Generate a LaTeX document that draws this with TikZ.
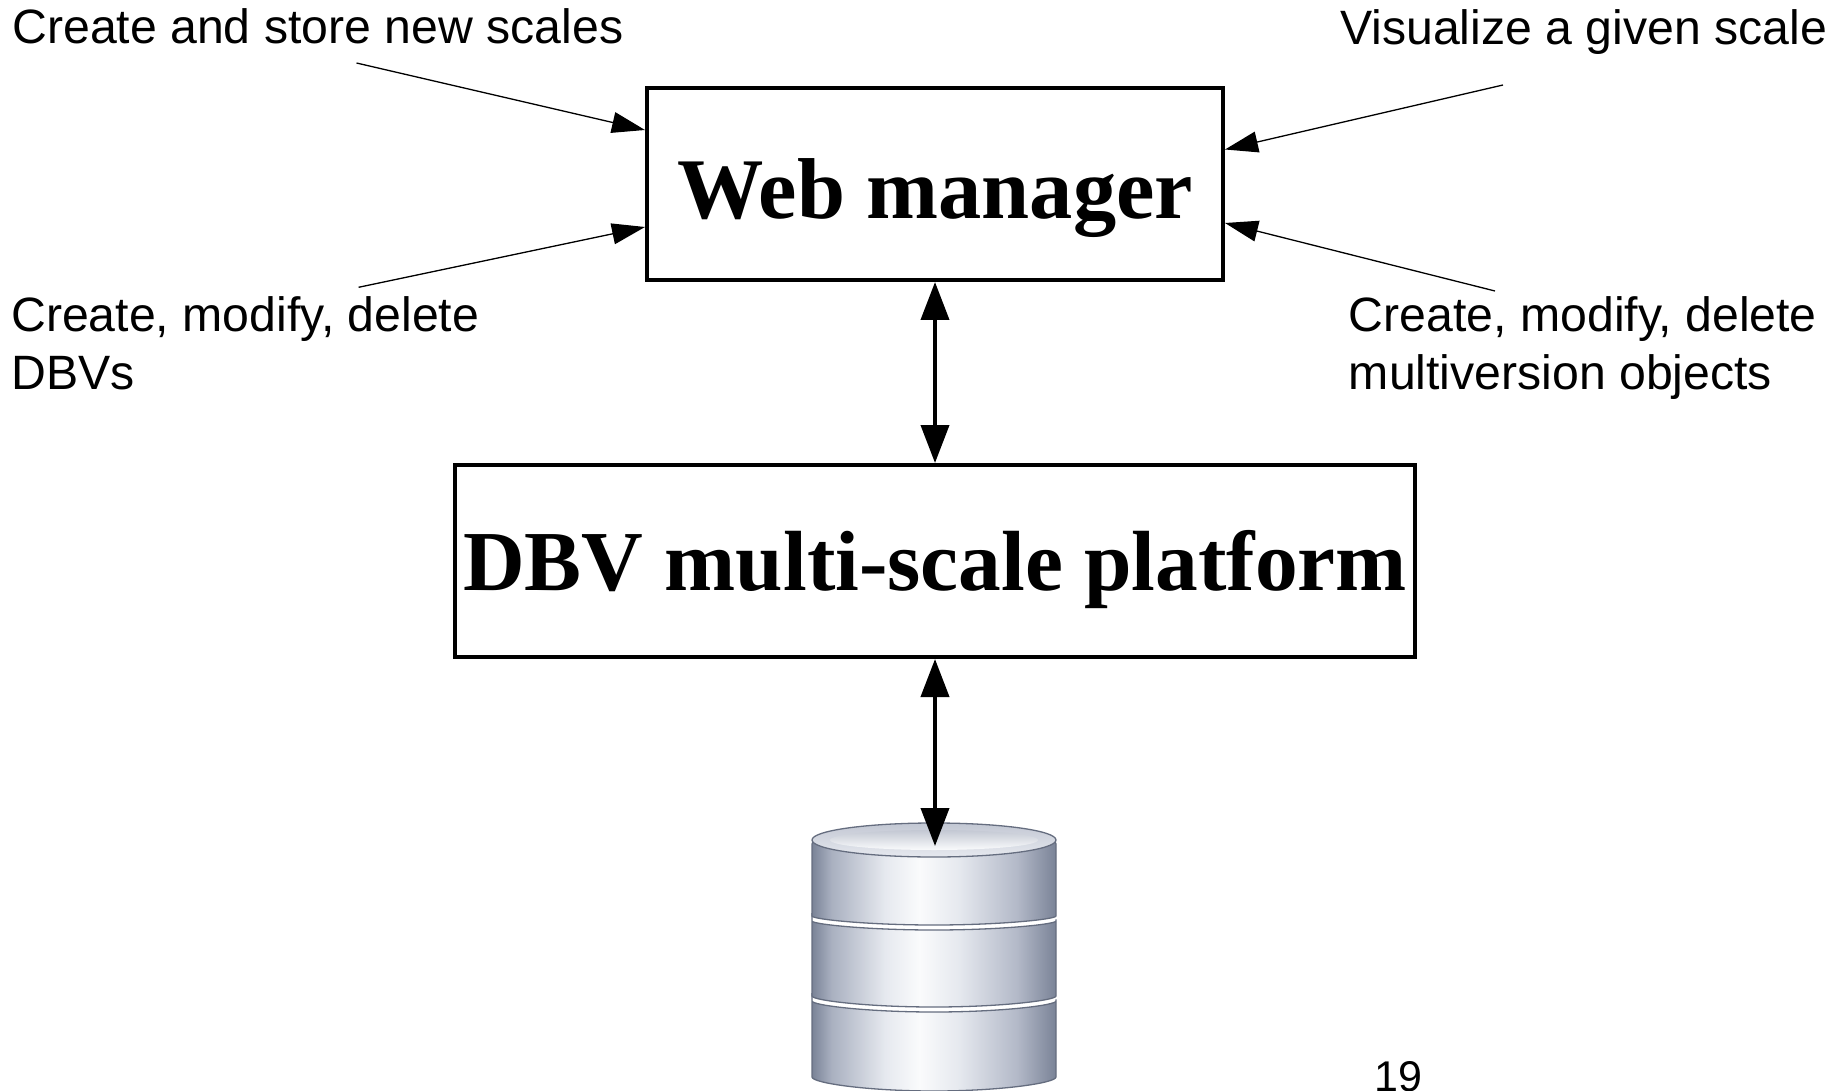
\documentclass[tikz,border=0pt]{standalone}
\usepackage{fontspec}
\setmainfont{Liberation Serif}
\newfontfamily\labelfont{Liberation Sans}
\usetikzlibrary{arrows.meta}
\definecolor{cylA}{HTML}{7A8397}
\definecolor{cylB}{HTML}{A9B0C0}
\definecolor{cylC}{HTML}{E6E9EF}
\definecolor{cylD}{HTML}{FAFBFC}
\definecolor{cylE}{HTML}{B3B9C8}
\definecolor{cylLine}{HTML}{656D7F}
\pgfdeclarehorizontalshading{cylshade}{100bp}{color(0bp)=(cylA); color(25bp)=(cylA); color(29bp)=(cylB); color(40bp)=(cylC); color(47bp)=(cylD); color(55bp)=(cylC); color(67bp)=(cylE); color(75bp)=(cylA); color(100bp)=(cylA)}
\begin{document}
\begin{tikzpicture}[x=1pt,y=-1pt,
  box/.style={draw, line width=4pt, inner sep=0pt},
  lbl/.style={font=\labelfont\fontsize{48.2}{58}\selectfont, inner sep=0pt, anchor=base west},
  feedarrow/.style={line width=1.3pt, -{Triangle[length=33pt,width=21pt]}},
  bidir/.style={line width=4pt, {Triangle[length=38pt,width=28pt]}-{Triangle[length=38pt,width=28pt]}},
  band/.style={shading=cylshade, draw=cylLine, line width=1.3pt, rounded corners=4pt}]
\useasboundingbox (0,0) rectangle (1842,1091);

% labels
\node[lbl] (l1) at (12.2,43.5) {Create and store new scales};
\node[lbl] (l2) at (11,331.7) {\begin{tabular}[t]{@{}l@{}}Create, modify, delete\\DBVs\end{tabular}};
\node[lbl] (l3) at (1340,45) {Visualize a given scale};
\node[lbl] (l4) at (1348.7,331.6) {\begin{tabular}[t]{@{}l@{}}Create, modify, delete\\multiversion objects\end{tabular}};
\node[lbl, font=\labelfont\fontsize{43}{50}\selectfont] (pg) at (1374,1091) {19};

% boxes
\node[box, font=\bfseries\fontsize{86.4}{90}\selectfont, minimum width=576pt, minimum height=192pt, text height=80pt, text depth=10.5pt] (web) at (935,184) {Web manager};
\node[box, font=\bfseries\fontsize{85.4}{90}\selectfont, minimum width=960pt, minimum height=192pt, text height=70pt, text depth=10.4pt] (dbv) at (935,561) {DBV multi-scale platform};

% database cylinder
\path[band] (812,997) -- (812,1073) arc[start angle=180, end angle=0, x radius=122, y radius=18]
  -- (1056,997) arc[start angle=0, end angle=180, x radius=122, y radius=15] -- cycle;
\path[band] (812,917) -- (812,992) arc[start angle=180, end angle=0, x radius=122, y radius=15]
  -- (1056,917) arc[start angle=0, end angle=180, x radius=122, y radius=13] -- cycle;
\path[band] (812,840) -- (812,912) arc[start angle=180, end angle=0, x radius=122, y radius=13]
  -- (1056,840) -- cycle;
\path[draw=cylLine, line width=1.3pt, top color=cylE!80!white, bottom color=cylC] (934,840) ellipse[x radius=122, y radius=17];
\path[top color=cylB!70!white, bottom color=cylD] (934,840) ellipse[x radius=104, y radius=10];
\coordinate (dbtop) at (935,846);

% connectors
\coordinate (s1) at (356.5,63);
\coordinate (s2) at (358.6,287.3);
\coordinate (s3) at (1503,85);
\coordinate (s4) at (1495,291);
\draw[feedarrow] (s1) -- ([yshift=-44pt]web.north west);
\draw[feedarrow] (s2) -- ([yshift=-141pt]web.north west);
\draw[feedarrow] (s3) -- ([yshift=-63.5pt]web.north east);
\draw[feedarrow] (s4) -- ([yshift=-137pt]web.north east);
\draw[bidir] (web.south) -- (dbv.north);
\draw[bidir] (dbv.south) -- (dbtop);
\end{tikzpicture}
\end{document}
